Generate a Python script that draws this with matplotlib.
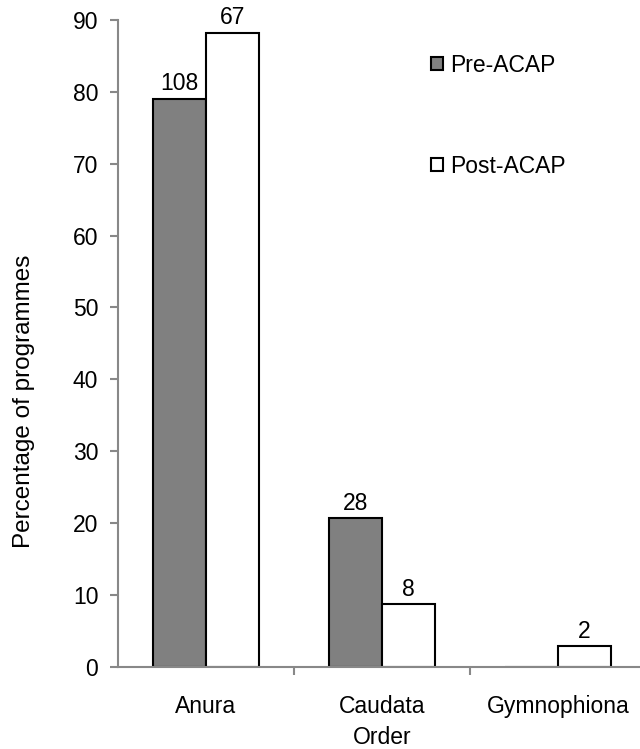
import numpy as np
import matplotlib.pyplot as plt

plt.rcParams['font.family'] = ['Liberation Sans', 'DejaVu Sans']

orders = ['Anura', 'Caudata', 'Gymnophiona']
pre_acap = [79.0, 20.7, 0.0]
post_acap = [88.2, 8.7, 2.9]
pre_counts = ['108', '28', '']
post_counts = ['67', '8', '2']

fig = plt.figure(figsize=(6.4, 7.49), dpi=100)
ax = fig.add_axes([0.184, 0.1095, 0.825, 0.864])

x = np.arange(len(orders))
w = 0.3
b1 = ax.bar(x - w / 2, pre_acap, w, color='#808080', edgecolor='black', linewidth=1.5, label='Pre-ACAP')
b2 = ax.bar(x + w / 2, post_acap, w, color='white', edgecolor='black', linewidth=1.5, label='Post-ACAP')

fs = 16.5
for bars, labels in [(b1, pre_counts), (b2, post_counts)]:
    for rect, lab in zip(bars, labels):
        if lab:
            ax.annotate(lab, (rect.get_x() + rect.get_width() / 2, rect.get_height()),
                        xytext=(0, 2.5), textcoords='offset points',
                        ha='center', va='bottom', fontsize=fs)

ax.set_xlim(-0.5, 2.5)
ax.set_ylim(0, 90)
ax.set_yticks(range(0, 91, 10))
ax.set_xticks(x)
ax.set_xticklabels(orders, fontsize=fs)
ax.set_xticks([0.5, 1.5], minor=True)
ax.tick_params(axis='x', which='major', length=0, pad=20)
ax.tick_params(axis='x', which='minor', length=6, width=1.5, color='#888888', direction='out')
ax.tick_params(axis='y', length=6, width=1.5, color='#888888', labelsize=fs, pad=8)

for s in ['top', 'right']:
    ax.spines[s].set_visible(False)
for s in ['left', 'bottom']:
    ax.spines[s].set_color('#888888')
    ax.spines[s].set_linewidth(1.5)

ax.set_xlabel('Order', fontsize=fs, labelpad=6)
ax.set_ylabel('Percentage of programmes', fontsize=17.5)
ax.yaxis.set_label_coords(-0.157, 0.41)

ax.legend(loc='upper left', bbox_to_anchor=(410 / 640, 1 - 33 / 749), bbox_transform=fig.transFigure,
          frameon=False, fontsize=fs, labelspacing=3.4, handlelength=0.55, handleheight=0.55,
          handletextpad=0.3)

fig.savefig('out.png', dpi=100)
